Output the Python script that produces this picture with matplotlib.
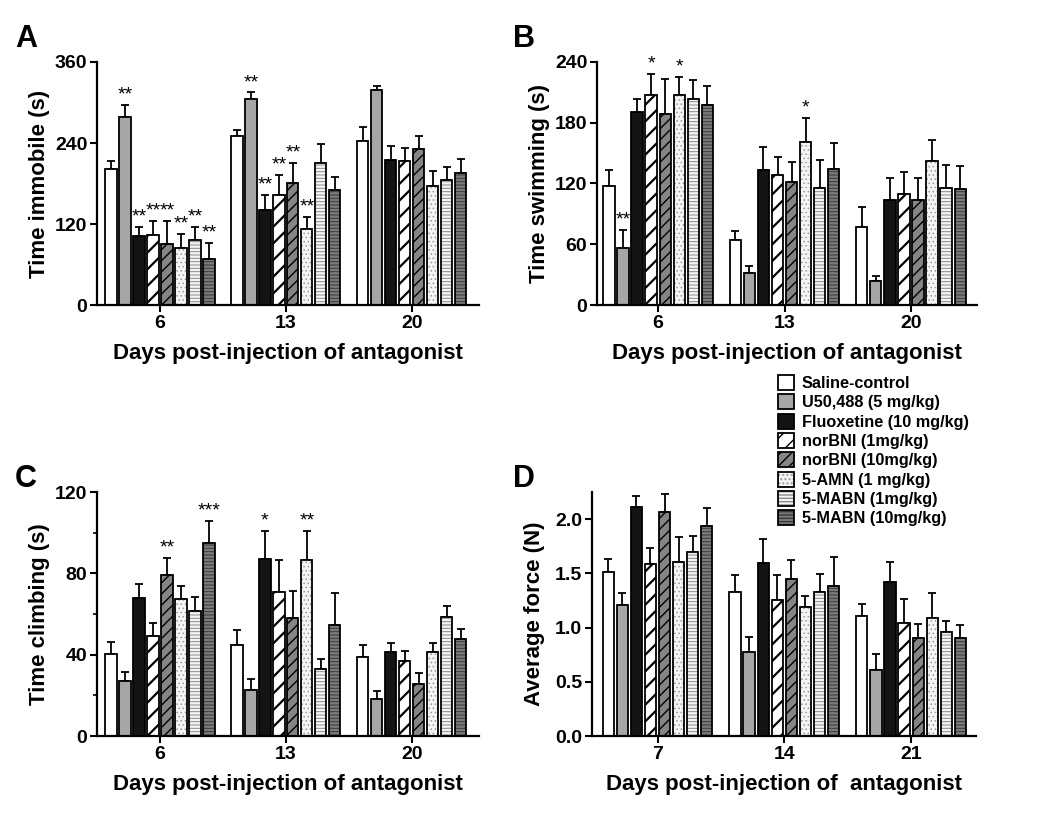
import numpy as np
import matplotlib
matplotlib.use('Agg')
import matplotlib.pyplot as plt
from matplotlib.patches import Patch
from matplotlib.legend_handler import HandlerTuple

plt.rcParams['font.family'] = ['Liberation Sans', 'DejaVu Sans']
plt.rcParams['font.weight'] = 'bold'

labels = ['Saline-control', 'U50,488 (5 mg/kg)', 'Fluoxetine (10 mg/kg)', 'norBNI (1mg/kg)',
          'norBNI (10mg/kg)', '5-AMN (1 mg/kg)', '5-MABN (1mg/kg)', '5-MABN (10mg/kg)']
fills = ['white', '#a6a6a6', '#141414', 'white', '#858585', '#f4f4f4', '#f4f4f4', '#7a7a7a']
hatches = [None, None, None, '//', '///', '....', '-----', '-----']
hatch_cols = ['black', 'black', 'black', 'black', 'black', '#9a9a9a', '#8a8a8a', '#3a3a3a']
hatch_lw = [1, 1, 1, 1.6, 1.0, 0.6, 0.7, 0.7]

# panel A - time immobile (rows = day, cols = treatment)
days_a = ['6', '13', '20']
immobile = [[201, 278, 102, 103, 91, 85, 96, 68],
            [251, 305, 140, 163, 181, 112, 211, 171],
            [243, 318, 215, 214, 231, 177, 185, 196]]
immobile_err = [[13, 19, 14, 22, 34, 20, 20, 24],
                [8, 10, 23, 30, 29, 18, 27, 19],
                [21, 6, 21, 19, 19, 21, 20, 20]]
stars_a = [(0, 1, '**'), (0, 2, '**'), (0, 3, '**'), (0, 4, '**'), (0, 5, '**'), (0, 6, '**'), (0, 7, '**'),
           (1, 1, '**'), (1, 2, '**'), (1, 3, '**'), (1, 4, '**'), (1, 5, '**')]

# panel B - time swimming
swimming = [[118, 56, 191, 207, 189, 207, 203, 198],
            [64, 32, 133, 128, 121, 161, 116, 134],
            [77, 24, 104, 110, 104, 142, 116, 115]]
swimming_err = [[15, 18, 12, 21, 34, 18, 19, 18],
                [9, 7, 23, 18, 20, 24, 27, 26],
                [20, 5, 21, 21, 21, 21, 22, 22]]
stars_b = [(0, 1, '**'), (0, 3, '*'), (0, 5, '*'), (1, 5, '*')]

# panel C - time climbing
climbing = [[40.3, 27.2, 67.7, 49, 79, 67.5, 61.5, 94.8],
            [44.6, 22.8, 86.9, 70.8, 58, 86.7, 33.1, 54.4],
            [38.9, 18.2, 41.1, 36.9, 25.7, 41.1, 58.7, 47.7]]
climbing_err = [[6, 4.3, 7, 6.4, 8.7, 6.5, 6.9, 11],
                [7.5, 5.2, 14, 15.7, 13.1, 14.3, 4.8, 15.7],
                [5.7, 3.8, 4.6, 4.9, 5.1, 4.6, 5.4, 5.1]]
stars_c = [(0, 4, '**'), (0, 7, '***'), (1, 2, '*'), (1, 5, '**')]

# panel D - average force
days_d = ['7', '14', '21']
force = [[1.516, 1.211, 2.114, 1.590, 2.065, 1.602, 1.695, 1.932],
         [1.328, 0.777, 1.593, 1.251, 1.448, 1.190, 1.328, 1.387],
         [1.103, 0.613, 1.418, 1.045, 0.900, 1.085, 0.961, 0.906]]
force_err = [[0.12, 0.105, 0.10, 0.145, 0.163, 0.23, 0.148, 0.17],
             [0.154, 0.14, 0.22, 0.237, 0.176, 0.10, 0.166, 0.26],
             [0.117, 0.145, 0.188, 0.22, 0.13, 0.237, 0.096, 0.114]]


def draw(ax, means, errs, ylim, yticks, yfmt, ylabel, days, xlabel, xlim, stars, minor=None):
    means = np.array(means)
    errs = np.array(errs)
    for j in range(8):
        x = np.arange(3) * 9 + j
        with plt.rc_context({'hatch.linewidth': hatch_lw[j]}):
            ax.bar(x, means[:, j], 0.8, color=fills[j], hatch=hatches[j], edgecolor=hatch_cols[j],
                   linewidth=0, zorder=2)
        ax.bar(x, means[:, j], 0.8, fill=False, edgecolor='black', linewidth=1.3, zorder=3)
        ax.errorbar(x, means[:, j], yerr=[np.zeros(3), errs[:, j]], fmt='none', ecolor='black',
                    elinewidth=1.3, capsize=3, capthick=1.3, zorder=1)
    for g, j, s in stars:
        ax.annotate(s, (g * 9 + j, means[g, j] + errs[g, j]), xytext=(0, 1), textcoords='offset points',
                    ha='center', va='bottom', fontsize=14, fontweight='normal')
    ax.set_xlim(*xlim)
    ax.set_ylim(*ylim)
    ax.set_yticks(yticks)
    ax.set_yticklabels([yfmt.format(v) for v in yticks])
    if minor is not None:
        ax.set_yticks(minor, minor=True)
        ax.tick_params(axis='y', which='minor', length=3, width=1.2)
    ax.set_xticks(np.arange(3) * 9 + 3.5)
    ax.set_xticklabels(days)
    ax.tick_params(axis='both', which='major', labelsize=14, length=5, width=1.5, pad=2)
    ax.set_ylabel(ylabel, fontsize=16, fontweight='bold')
    ax.set_xlabel(xlabel, fontsize=16, fontweight='bold')
    ax.yaxis.set_label_coords(-0.123, 0.5)
    ax.xaxis.set_label_coords(0.5, -0.155)
    for sp in ['top', 'right']:
        ax.spines[sp].set_visible(False)
    for sp in ['left', 'bottom']:
        ax.spines[sp].set_linewidth(1.6)


fig = plt.figure(figsize=(10.5, 8.22), dpi=100)
W, H = 1050, 822


def place(l, r, t, b):
    return fig.add_axes([l / W, 1 - b / H, (r - l) / W, (b - t) / H])


ax_a = place(97, 479, 62, 305)
ax_b = place(597, 977, 62, 305)
ax_c = place(97, 479, 492, 736)
ax_d = place(592, 976, 492, 736)

xl = 'Days post-injection of antagonist'
draw(ax_a, immobile, immobile_err, (0, 360), [0, 120, 240, 360], '{:d}', 'Time immobile (s)',
     days_a, xl, (-1.0, 26.3), stars_a)
draw(ax_b, swimming, swimming_err, (0, 240), [0, 60, 120, 180, 240], '{:d}', 'Time swimming (s)',
     days_a, xl, (-0.85, 26.2), stars_b)
draw(ax_c, climbing, climbing_err, (0, 120), [0, 40, 80, 120], '{:d}', 'Time climbing (s)',
     days_a, xl, (-1.0, 26.3), stars_c, minor=[20, 60, 100])
draw(ax_d, force, force_err, (0, 2.25), [0.0, 0.5, 1.0, 1.5, 2.0], '{:.1f}', 'Average force (N)',
     days_d, 'Days post-injection of  antagonist', (-1.15, 26.1), [])

for letter, x, y in [('A', 15, 47), ('B', 513, 47), ('C', 15, 487), ('D', 513, 487)]:
    fig.text(x / W, 1 - y / H, letter, fontsize=22, fontweight='bold', va='baseline', ha='left')

handles = []
for j in range(8):
    with plt.rc_context({'hatch.linewidth': hatch_lw[j]}):
        p1 = Patch(facecolor=fills[j], hatch=hatches[j], edgecolor=hatch_cols[j], linewidth=0)
    p2 = Patch(fill=False, edgecolor='black', linewidth=1.3)
    handles.append((p1, p2))
fig.legend(handles, labels, loc='upper left', bbox_to_anchor=(778 / W, 1 - 375 / H), frameon=False,
           fontsize=11.7, handlelength=1.0, handleheight=1.05, labelspacing=0.2, handletextpad=0.45,
           borderaxespad=0, borderpad=0,
           handler_map={tuple: HandlerTuple(ndivide=1, pad=0)})

fig.savefig('out.png', dpi=100)
